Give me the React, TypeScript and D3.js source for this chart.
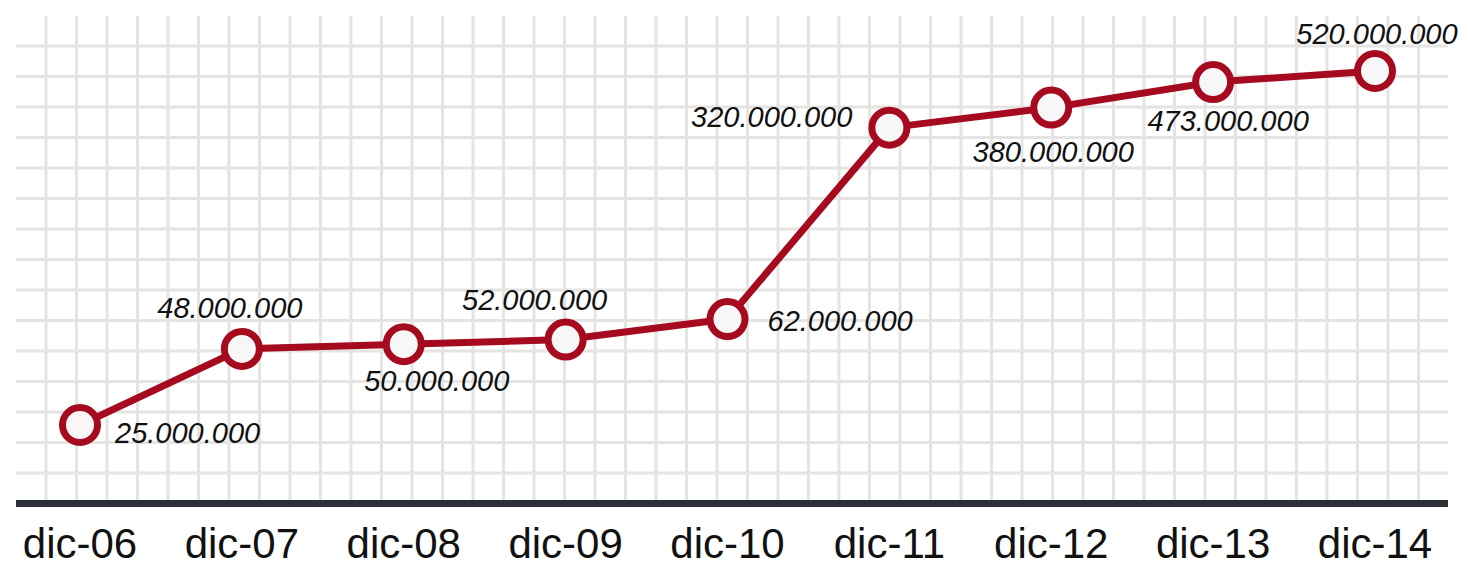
import React, { useEffect, useRef } from "react";
import * as d3 from "d3";

// Period labels and reported values
const periods: string[] = ["dic-06", "dic-07", "dic-08", "dic-09", "dic-10", "dic-11", "dic-12", "dic-13", "dic-14"];
const values: number[] = [25000000, 48000000, 50000000, 52000000, 62000000, 320000000, 380000000, 473000000, 520000000];

// Where each value label sits relative to its marker
const labelPlacement: { dx: number; dy: number; anchor: string }[] = [
  { dx: 35, dy: 18, anchor: "start" },
  { dx: -12, dy: -31, anchor: "middle" },
  { dx: 33, dy: 47, anchor: "middle" },
  { dx: -31, dy: -30, anchor: "middle" },
  { dx: 40, dy: 12, anchor: "start" },
  { dx: -37, dy: -1, anchor: "end" },
  { dx: 2, dy: 54, anchor: "middle" },
  { dx: 15, dy: 49, anchor: "middle" },
  { dx: 2, dy: -27, anchor: "middle" },
];

const W = 1469;
const H = 566;

// Spanish-style thousands separator
const fmt = (v: number) => d3.format(",")(v).replace(/,/g, ".");

export default function App() {
  const ref = useRef<SVGSVGElement>(null);

  useEffect(() => {
    const svg = d3.select(ref.current);
    svg.selectAll("*").remove();

    const x = d3.scalePoint<string>().domain(periods).range([80, 1375]);
    const y = d3.scaleLog().domain([25000000, 520000000]).range([425, 71]);

    // background graph-paper grid
    const grid = svg.append("g").attr("stroke", "#e6e4e2").attr("stroke-width", 3);
    grid
      .selectAll("line.v")
      .data(d3.range(46, 1425, 30.5))
      .join("line")
      .attr("class", "v")
      .attr("x1", (d) => d)
      .attr("x2", (d) => d)
      .attr("y1", 16)
      .attr("y2", 500);
    grid
      .selectAll("line.h")
      .data(d3.range(46, 480, 30.5))
      .join("line")
      .attr("class", "h")
      .attr("x1", 16)
      .attr("x2", 1448)
      .attr("y1", (d) => d)
      .attr("y2", (d) => d);

    // baseline axis
    svg
      .append("line")
      .attr("x1", 16)
      .attr("x2", 1448)
      .attr("y1", 503.5)
      .attr("y2", 503.5)
      .attr("stroke", "#2b2f38")
      .attr("stroke-width", 7);

    // category labels
    svg
      .append("g")
      .selectAll("text")
      .data(periods)
      .join("text")
      .attr("x", (d) => x(d)!)
      .attr("y", 558)
      .attr("text-anchor", "middle")
      .attr("font-family", "'Liberation Sans', Arial, sans-serif")
      .attr("font-size", 42)
      .attr("fill", "#111")
      .text((d) => d);

    const pts = periods.map((p, i) => ({ p, v: values[i], i }));

    const line = d3
      .line<{ p: string; v: number }>()
      .x((d) => x(d.p)!)
      .y((d) => y(d.v));

    svg
      .append("path")
      .datum(pts)
      .attr("d", line)
      .attr("fill", "none")
      .attr("stroke", "#a50a1e")
      .attr("stroke-width", 7)
      .attr("stroke-linejoin", "round");

    svg
      .append("g")
      .selectAll("circle")
      .data(pts)
      .join("circle")
      .attr("cx", (d) => x(d.p)!)
      .attr("cy", (d) => y(d.v))
      .attr("r", 17.5)
      .attr("fill", "#f7f7f7")
      .attr("stroke", "#a50a1e")
      .attr("stroke-width", 7);

    svg
      .append("g")
      .selectAll("text")
      .data(pts)
      .join("text")
      .attr("x", (d) => x(d.p)! + labelPlacement[d.i].dx)
      .attr("y", (d) => y(d.v) + labelPlacement[d.i].dy)
      .attr("text-anchor", (d) => labelPlacement[d.i].anchor)
      .attr("font-family", "'Liberation Sans', Arial, sans-serif")
      .attr("font-style", "italic")
      .attr("font-size", 29)
      .attr("fill", "#111")
      .text((d) => fmt(d.v));
  }, []);

  return (
    <svg
      ref={ref}
      width={W}
      height={H}
      style={{ position: "absolute", left: 0, top: 0, background: "#fff" }}
    />
  );
}
